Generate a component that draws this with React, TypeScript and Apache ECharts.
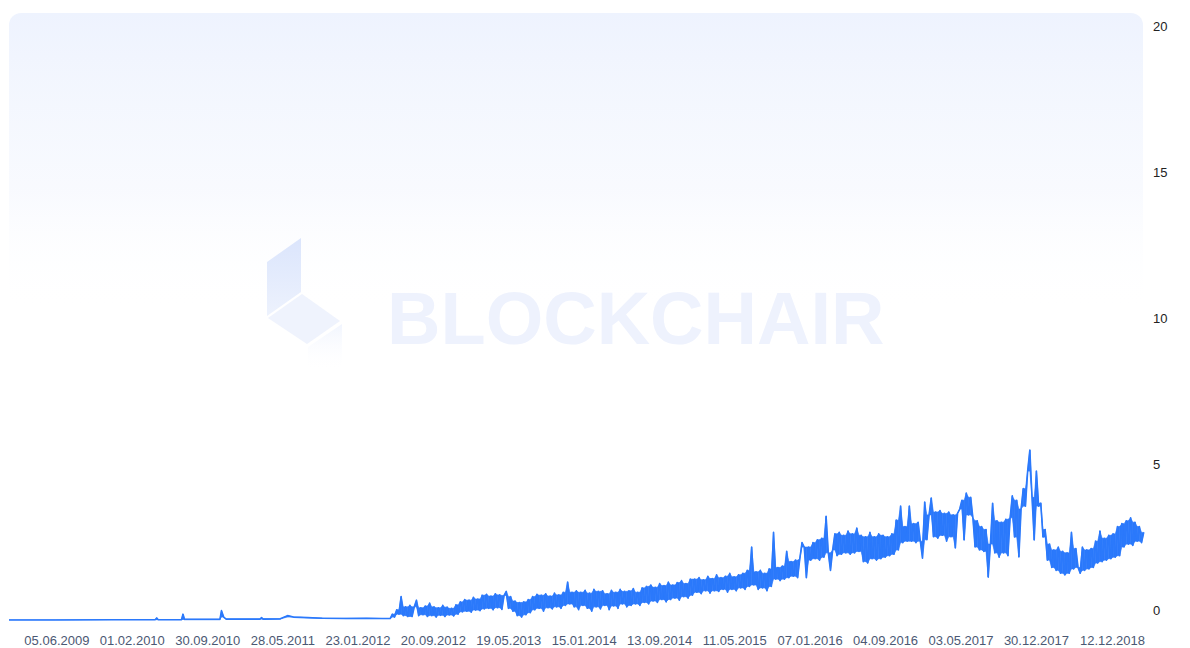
import React, { useEffect, useRef } from "react";
import * as echarts from "echarts";

// Flat early era (explicit dates, value)
const earlyDates = [
  "2009-01-03", "2009-06-01", "2009-12-01", "2010-04-15", "2010-04-20", "2010-04-25",
  "2010-07-08", "2010-07-13", "2010-07-18", "2010-11-08", "2010-11-13", "2010-11-20",
  "2010-11-28", "2011-03-16", "2011-03-21", "2011-03-26", "2011-05-20", "2011-06-12",
  "2011-07-01", "2011-08-15", "2011-10-01", "2011-12-15", "2012-02-20", "2012-04-10",
];
const earlyValues = [
  0, 0, 0.01, 0.01, 0.07, 0.01,
  0.01, 0.2, 0.02, 0.02, 0.32, 0.1,
  0.03, 0.03, 0.08, 0.03, 0.04, 0.15,
  0.1, 0.08, 0.06, 0.05, 0.06, 0.05,
];

// Weekly readings from 2012-05-05 onward (alternating high / low of the daily swing)
const weeklyStart = "2012-05-05";
const weeklyValues = [
  0.05, 0.2, 0.1, 0.35, 0.2,
  0.8, 0.15, 0.45, 0.12, 0.5,
  0.12, 0.45, 0.68, 0.15, 0.42, 0.18, 0.48, 0.12, 0.58, 0.15,
  0.45, 0.1, 0.42, 0.16, 0.5, 0.12, 0.44, 0.17, 0.4, 0.14,
  0.52, 0.2, 0.62, 0.28, 0.7, 0.3, 0.68, 0.27, 0.78, 0.34,
  0.72, 0.32, 0.85, 0.38, 0.88, 0.4, 0.82, 0.35, 0.9, 0.42,
  0.86, 0.36, 0.84, 0.98, 0.4, 0.8, 0.3, 0.65, 0.15, 0.6,
  0.1, 0.62, 0.18, 0.7, 0.25, 0.8, 0.35, 0.88, 0.4, 0.85,
  0.3, 0.9, 0.42, 0.82, 0.38, 0.92, 0.45, 0.86, 0.4, 0.95,
  0.5, 1.3, 0.55, 0.95, 0.45, 1.0, 0.35, 0.95, 0.5, 1.02,
  0.4, 0.92, 0.3, 1.05, 0.45, 0.98, 0.38, 1.0, 0.5, 0.9,
  0.35, 1.02, 0.48, 0.95, 0.4, 1.05, 0.55, 0.98, 0.45, 1.0,
  0.5, 1.08, 0.55, 0.95, 0.5, 1.1, 0.6, 1.15, 0.55, 1.2,
  0.65, 1.12, 0.6, 1.25, 0.7, 1.18, 0.62, 1.3, 0.7, 1.2,
  0.75, 1.28, 0.68, 1.35, 0.8, 1.25, 0.75, 1.4, 0.85, 1.4,
  0.95, 1.45, 0.9, 1.38, 1.0, 1.5, 0.92, 1.42, 1.0, 1.55,
  0.98, 1.45, 1.05, 1.5, 0.95, 1.6, 1.05, 1.48, 1.0, 1.55,
  1.1, 1.6, 1.05, 1.7, 1.15, 2.5, 1.2, 1.65, 1.05, 1.7,
  1.1, 1.6, 1.0, 1.75, 1.15, 3.0, 1.4, 1.8, 1.35, 1.85,
  1.4, 2.35, 1.45, 2.0, 1.5, 2.05, 1.45, 2.1, 2.65, 2.5,
  1.45, 2.5, 2.05, 2.65, 2.1, 2.75, 2.05, 2.8, 2.15, 3.55,
  2.3, 1.7, 2.4, 2.95, 2.2, 3.0, 2.25, 2.9, 2.3, 3.05,
  2.25, 2.95, 2.3, 3.15, 2.35, 2.9, 2.0, 2.85, 1.95, 3.0,
  2.1, 2.85, 2.05, 2.95, 2.1, 2.9, 2.15, 2.85, 2.2, 2.95,
  2.25, 3.42, 2.4, 3.9, 2.65, 3.2, 2.7, 3.9, 2.7, 3.3,
  2.65, 3.35, 2.7, 2.12, 4.04, 2.75, 3.6, 4.18, 2.85, 3.7,
  2.8, 3.75, 2.9, 3.65, 2.7, 3.7, 2.85, 3.6, 2.47, 3.65,
  3.8, 4.1, 2.74, 4.35, 3.6, 4.2, 3.5, 2.5, 3.4, 2.4,
  3.2, 2.35, 3.1, 1.47, 2.6, 4.0, 2.3, 3.4, 2.15, 3.35,
  2.3, 3.45, 2.2, 3.5, 4.25, 2.84, 4.1, 2.16, 3.8, 4.5,
  3.9, 5.1, 5.82, 4.2, 2.74, 5.1, 3.9, 4.0, 2.84, 3.1,
  2.05, 2.6, 1.8, 2.4, 1.7, 2.5, 1.6, 2.35, 1.54, 2.3,
  1.6, 3.0, 1.75, 2.45, 1.8, 1.6, 2.5, 1.7, 2.4, 1.75,
  2.45, 1.8, 2.7, 1.95, 3.05, 2.0, 2.8, 2.05, 2.9, 2.1,
  2.95, 2.15, 3.2, 2.2, 3.3, 2.5, 3.4, 2.6, 3.5, 2.55,
  3.35, 2.7, 3.2, 2.65, 3.0,
];

const xLabelDates = [
  "2009-06-05", "2010-02-01", "2010-09-30", "2011-05-28", "2012-01-23",
  "2012-09-20", "2013-05-19", "2014-01-15", "2014-09-13", "2015-05-11",
  "2016-01-07", "2016-09-04", "2017-05-03", "2017-12-30", "2018-12-12",
];
const yTicks = [0, 5, 10, 15, 20];
const axisStart = "2009-01-03";
const axisEnd = "2018-12-12";

function toTs(s: string, addDays = 0): number {
  const [y, m, d] = s.split("-").map(Number);
  return Date.UTC(y, m - 1, d + addDays);
}
function pad(n: number) {
  return n < 10 ? "0" + n : "" + n;
}
function fmt(v: number) {
  const d = new Date(v);
  return pad(d.getUTCDate()) + "." + pad(d.getUTCMonth() + 1) + "." + d.getUTCFullYear();
}

const BLUE = "#2b79fb";

export default function App() {
  const ref = useRef<HTMLDivElement>(null);
  useEffect(() => {
    if (!ref.current) return;
    const chart = echarts.init(ref.current, undefined, { renderer: "svg" });
    const xs = [
      ...earlyDates.map((d) => toTs(d)),
      ...weeklyValues.map((_, i) => toTs(weeklyStart, i * 7)),
    ];
    const ys = [...earlyValues, ...weeklyValues];
    const data = xs.map((x, i) => [x, ys[i]]);
    // envelope of the swing (fills the zig-zag into a band)
    const lo: number[] = [];
    const hi: number[] = [];
    for (let i = 0; i < ys.length; i++) {
      const a = i > 0 ? ys[i - 1] : ys[i];
      const b = i < ys.length - 1 ? ys[i + 1] : ys[i];
      hi.push(Math.max(ys[i], Math.min(a, b)));
      lo.push(Math.min(ys[i], Math.max(a, b)));
    }
    const bandSegs: number[][] = [];
    for (let i = 0; i < ys.length - 1; i++) {
      bandSegs.push([xs[i], lo[i], hi[i], xs[i + 1], lo[i + 1], hi[i + 1]]);
    }
    chart.setOption({
      animation: false,
      backgroundColor: "#ffffff",
      grid: { left: 9, right: 45, top: 36, bottom: 28, containLabel: false },
      graphic: [
        {
          type: "rect",
          z: -10,
          silent: true,
          shape: { x: 9, y: 13, width: 1134, height: 300, r: 12 },
          style: {
            fill: new echarts.graphic.LinearGradient(0, 0, 0, 1, [
              { offset: 0, color: "rgba(238,243,254,1)" },
              { offset: 0.6, color: "rgba(244,247,254,0.6)" },
              { offset: 1, color: "rgba(255,255,255,0)" },
            ]),
          },
        },
        {
          type: "polygon",
          z: -9,
          silent: true,
          shape: { points: [[267, 262], [301, 238], [301, 292], [267, 316]] },
          style: {
            fill: new echarts.graphic.LinearGradient(0, 0, 0, 1, [
              { offset: 0, color: "#dbe5fc" },
              { offset: 1, color: "#edf2fd" },
            ]),
          },
        },
        {
          type: "polygon",
          z: -9,
          silent: true,
          shape: { points: [[268, 318], [302, 294], [340, 321], [307, 344]] },
          style: { fill: "#eff3fd" },
        },
        {
          type: "polygon",
          z: -9,
          silent: true,
          shape: { points: [[308, 347], [342, 324], [342, 372], [308, 372]] },
          style: {
            fill: new echarts.graphic.LinearGradient(0, 0, 0, 1, [
              { offset: 0, color: "#f1f5fe" },
              { offset: 1, color: "rgba(255,255,255,0)" },
            ]),
          },
        },
        {
          type: "text",
          z: -9,
          silent: true,
          x: 387,
          y: 318,
          style: {
            text: "BLOCKCHAIR",
            font: "bold 74px 'Liberation Sans', Arial, sans-serif",
            fill: "#eef2fd",
            verticalAlign: "middle",
          },
        },
      ],
      xAxis: {
        type: "value",
        min: toTs(axisStart),
        max: toTs(axisEnd),
        axisLine: { show: false },
        axisTick: { show: false },
        splitLine: { show: false },
        axisLabel: {
          customValues: xLabelDates.map((d) => toTs(d)),
          formatter: (v: number) => fmt(v),
          color: "#4b5873",
          fontSize: 13,
          fontFamily: "'Liberation Sans', Arial, sans-serif",
          margin: 14,
          alignMaxLabel: "right",
        },
      },
      yAxis: {
        type: "value",
        position: "right",
        min: yTicks[0],
        max: yTicks[yTicks.length - 1],
        interval: yTicks[1] - yTicks[0],
        axisLine: { show: false },
        axisTick: { show: false },
        splitLine: { show: false },
        axisLabel: {
          color: "#222",
          fontSize: 13,
          fontFamily: "'Liberation Sans', Arial, sans-serif",
          margin: 8,
          verticalAlign: "bottom",
          padding: [0, 0, 3, 0],
        },
      },
      series: [
        {
          type: "custom",
          data: bandSegs,
          silent: true,
          encode: { x: [0, 3], y: [1, 2, 4, 5] },
          renderItem: (params: any, api: any) => {
            const p1 = api.coord([api.value(0), api.value(1)]);
            const p2 = api.coord([api.value(0), api.value(2)]);
            const p3 = api.coord([api.value(3), api.value(5)]);
            const p4 = api.coord([api.value(3), api.value(4)]);
            return {
              type: "polygon",
              shape: { points: [p1, p2, p3, p4] },
              style: { fill: BLUE, stroke: BLUE, lineWidth: 0.6 },
            };
          },
        },
        {
          type: "line",
          data,
          showSymbol: false,
          symbol: "none",
          lineStyle: { color: BLUE, width: 1.6, join: "round" },
          itemStyle: { color: BLUE },
        },
      ],
    });
    return () => chart.dispose();
  }, []);
  return (
    <div
      ref={ref}
      style={{ position: "fixed", left: 0, top: 0, width: 1190, height: 648 }}
    />
  );
}
